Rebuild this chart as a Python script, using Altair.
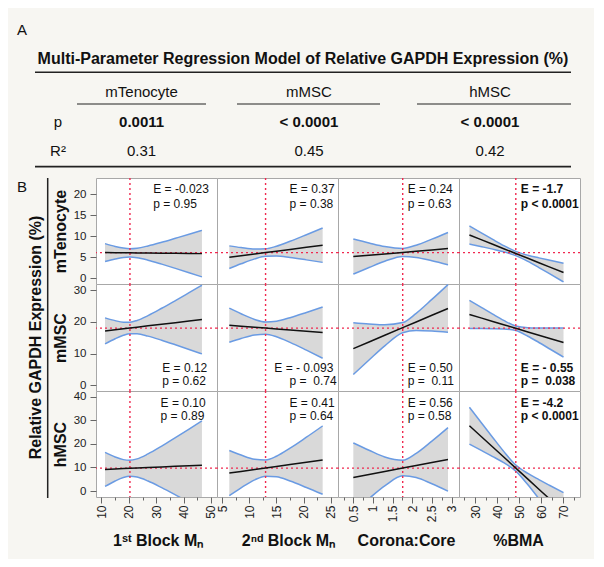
import altair as alt
import pandas as pd

FONT = "Liberation Sans"
BG = "#f7f6f2"
GRAY = "#d9d9d9"
BLUE = "#6a9be3"
RED = "#f0284f"
BORDER = "#a8a8a8"

# ---------------- Panel A : table data ----------------
TABLE_TITLE = "Multi-Parameter Regression Model of Relative GAPDH Expression (%)"
CELL_TYPES = ["mTenocyte", "mMSC", "hMSC"]
MODEL_P = ["0.0011", "< 0.0001", "< 0.0001"]
MODEL_R2 = ["0.31", "0.45", "0.42"]
ROW_LABELS = ["p", "R\u00b2"]

# ---------------- Panel B : profiler data ----------------
ROW_NAMES = ["mTenocyte", "mMSC", "hMSC"]
X_TITLES = ["1\u02e2\u1d57 Block M\u2099", "2\u207f\u1d48 Block M\u2099", "Corona:Core", "%BMA"]
Y_AXIS_TITLE = "Relative GAPDH Expression (%)"

X_DOMAINS = [[8.0, 52.2], [4.08, 26.3], [0.11, 3.19], [22.66, 77.7]]
Y_DOMAINS = [[-1.4, 23.9], [-1.8, 31.9], [-2.5, 42.4]]
X_TICKS = [[10, 20, 30, 40, 50], [5, 10, 15, 20, 25], [0.5, 1, 1.5, 2, 2.5, 3], [30, 40, 50, 60, 70]]
X_MINOR = [[15, 25, 35, 45], [7.5, 12.5, 17.5, 22.5], [0.25, 0.75, 1.25, 1.75, 2.25, 2.75], [25, 35, 45, 55, 65, 75]]
Y_TICKS = [[0, 5, 10, 15, 20], [0, 10, 20, 30], [0, 10, 20, 30, 40]]
REF_X = [20.4, 13.0, 1.757, 48.5]
REF_Y = [6.1, 18.0, 9.75]

X_PTS = [
    [11.3, 15, 18, 20.4, 23, 27, 32, 37, 42, 46.7],
    [6.34, 8.5, 11, 13.0, 15, 17.5, 20.5, 23.48],
    [0.5, 0.9, 1.3, 1.757, 2.1, 2.5, 2.91],
    [27.4, 33, 38, 43, 48.5, 54, 59, 64, 70.2],
]

FIT = [
    [[6.10, 6.07, 6.05, 6.03, 6.01, 5.99, 5.95, 5.92, 5.88, 5.85],
     [5.00, 5.36, 5.78, 6.11, 6.44, 6.86, 7.36, 7.86],
     [5.14, 5.46, 5.78, 6.14, 6.41, 6.73, 7.05],
     [10.30, 9.13, 8.08, 7.03, 5.88, 4.73, 3.68, 2.63, 1.33]],
    [[17.13, 17.51, 17.81, 18.05, 18.31, 18.72, 19.22, 19.72, 20.23, 20.70],
     [18.93, 18.63, 18.29, 18.02, 17.75, 17.41, 17.00, 16.59],
     [11.55, 13.65, 15.75, 18.15, 19.95, 22.05, 24.20],
     [22.30, 21.15, 20.11, 19.08, 17.94, 16.80, 15.77, 14.73, 13.45]],
    [[9.19, 9.38, 9.54, 9.66, 9.79, 10.00, 10.25, 10.51, 10.76, 11.00],
     [7.63, 8.32, 9.13, 9.77, 10.41, 11.22, 12.18, 13.14],
     [5.80, 7.07, 8.33, 9.78, 10.87, 12.13, 13.43],
     [27.70, 22.93, 18.68, 14.42, 9.74, 5.06, 0.80, -3.45, -8.73]],
]
UPPER = [
    [[8.24, 7.57, 7.17, 7.03, 7.15, 7.69, 8.56, 9.51, 10.47, 11.40],
     [7.70, 7.30, 6.96, 7.01, 7.62, 8.80, 10.36, 11.96],
     [9.32, 8.39, 7.54, 7.09, 7.87, 9.32, 10.90],
     [12.47, 10.76, 9.24, 7.77, 6.38, 5.47, 4.84, 4.26, 3.56]],
    [[21.24, 20.36, 19.88, 19.88, 20.42, 21.96, 24.26, 26.69, 29.17, 31.51],
     [24.28, 22.52, 20.74, 19.96, 20.20, 21.30, 22.94, 24.67],
     [19.71, 19.33, 19.07, 19.75, 22.66, 27.04, 31.71],
     [26.75, 24.45, 22.40, 20.43, 18.65, 18.15, 18.06, 18.03, 18.02]],
    [[16.41, 14.47, 13.33, 13.06, 13.65, 15.74, 19.05, 22.62, 26.26, 29.72],
     [17.21, 15.27, 13.50, 13.22, 14.78, 18.17, 22.82, 27.61],
     [20.40, 17.31, 14.47, 13.08, 15.97, 21.16, 26.88],
     [35.53, 28.75, 22.73, 16.82, 11.04, 7.46, 4.85, 2.37, -0.68]],
]
LOWER = [
    [[3.96, 4.57, 4.93, 5.03, 4.87, 4.29, 3.34, 2.33, 1.29, 0.30],
     [2.30, 3.42, 4.60, 5.21, 5.26, 4.92, 4.36, 3.76],
     [0.96, 2.53, 4.02, 5.19, 4.95, 4.14, 3.20],
     [8.13, 7.50, 6.92, 6.29, 5.38, 3.99, 2.52, 1.00, -0.90]],
    [[13.02, 14.66, 15.74, 16.22, 16.20, 15.48, 14.18, 12.75, 11.29, 9.89],
     [13.58, 14.74, 15.84, 16.08, 15.30, 13.52, 11.06, 8.51],
     [3.39, 7.97, 12.43, 16.55, 17.24, 17.06, 16.69],
     [17.85, 17.85, 17.82, 17.73, 17.23, 15.45, 13.48, 11.43, 8.88]],
    [[1.97, 4.29, 5.75, 6.26, 5.93, 4.26, 1.45, -1.60, -4.74, -7.72],
     [-1.95, 1.37, 4.76, 6.32, 6.04, 4.27, 1.54, -1.33],
     [-8.80, -3.17, 2.19, 6.48, 5.77, 3.10, -0.02],
     [19.87, 17.11, 14.63, 12.02, 8.44, 2.66, -3.25, -9.27, -16.78]],
]

NB = "\u00a0"
EST_LABELS = [
    ["E = -0.023", "E = 0.37", "E = 0.24", "E = -1.7"],
    ["E = 0.12", "E = - 0.093", "E = 0.50", "E = - 0.55"],
    ["E = 0.10", "E = 0.41", "E = 0.56", "E = -4.2"],
]
P_LABELS = [
    ["p = 0.95", "p = 0.38", "p = 0.63", "p < 0.0001"],
    ["p = 0.62", "p = " + NB + "0.74", "p = " + NB + "0.11", "p = " + NB + "0.038"],
    ["p = 0.89", "p = 0.64", "p = 0.58", "p < 0.0001"],
]

# ---------------- layout (positions / sizes) ----------------
PANEL_W = 121
ROW_H = [106, 107, 106]
ANNOT_X_E = [[28.9, 32.2, 31.6], [17.4, 14.6, 17.4], [1.884, 1.884, 1.884], [50.8, 50.8, 50.8]]
ANNOT_X_P = [[28.9, 32.2, 31.6], [17.4, 17.4, 17.4], [1.884, 1.884, 1.884], [50.8, 50.8, 50.8]]
ANNOT_Y_E = [21.26, 5.46, 37.3]
ANNOT_Y_P = [17.8, 1.2, 31.8]
TITLE_X = [61.7, 71, 68, 59]
TABLE_COL_X = [49, 132.6, 300, 481]
TABLE_ROW_Y = [82.5, 113, 142]


def panel(r, c):
    df = pd.DataFrame({"x": X_PTS[c], "fit": FIT[r][c], "up": UPPER[r][c], "lo": LOWER[r][c]})
    refdf = pd.DataFrame({"rx": [REF_X[c]], "ry": [REF_Y[r]]})
    tdf = pd.DataFrame({
        "tx": [ANNOT_X_E[c][r], ANNOT_X_P[c][r]],
        "ty": [ANNOT_Y_E[r], ANNOT_Y_P[r]],
        "t": [EST_LABELS[r][c], P_LABELS[r][c]],
    })
    xsc = alt.Scale(domain=X_DOMAINS[c], nice=False, zero=False)
    ysc = alt.Scale(domain=Y_DOMAINS[r], nice=False, zero=False)
    if r == 2:
        majors = "[" + ",".join(str(v) for v in X_TICKS[c]) + "]"
        lab = "datum.label"
        if c == 2:
            lab = "((datum.value == 1.5 || datum.value == 2.5) ? datum.label + '" + NB + NB + "' : datum.label)"
        expr = "indexof(" + majors + ", datum.value) < 0 ? '' : " + lab
        minor_test = "indexof(" + majors + ", datum.value) < 0"
        xax = alt.Axis(values=sorted(X_TICKS[c] + X_MINOR[c]), format="~f", labelAngle=270,
                       labelExpr=expr, labelFontSize=12, labelPadding=2,
                       tickSize={"condition": {"test": minor_test, "value": 3}, "value": 6},
                       labelOverlap=False,
                       title=X_TITLES[c], titleX=TITLE_X[c], titleY=43, titleBaseline="middle",
                       titleAlign="center", titleFontSize=16, titleFontWeight="bold",
                       domain=False, grid=False)
    else:
        xax = None
    if c == 0:
        yax = alt.Axis(values=Y_TICKS[r], labelFontSize=11.5, labelPadding=4, tickSize=6,
                       labelOverlap=False, title=ROW_NAMES[r], titleX=-36, titleY=ROW_H[r] / 2,
                       titleAngle=270, titleAlign="center", titleBaseline="middle",
                       titleFontSize=16, titleFontWeight="bold", domain=False, grid=False)
    else:
        yax = None

    def X(f):
        return alt.X(f, type="quantitative", scale=xsc, axis=xax)

    def Y(f):
        return alt.Y(f, type="quantitative", scale=ysc, axis=yax)

    band = alt.Chart(df).mark_area(color=GRAY, interpolate="monotone", clip=True).encode(
        x=X("x"), y=Y("lo"), y2=alt.Y2("up"))
    up_l = alt.Chart(df).mark_line(color=BLUE, strokeWidth=1.5, interpolate="monotone", clip=True).encode(
        x=X("x"), y=Y("up"))
    lo_l = alt.Chart(df).mark_line(color=BLUE, strokeWidth=1.5, interpolate="monotone", clip=True).encode(
        x=X("x"), y=Y("lo"))
    hr = alt.Chart(refdf).mark_rule(color=RED, strokeDash=[2, 3], strokeWidth=1.4).encode(y=Y("ry"))
    vr = alt.Chart(refdf).mark_rule(color=RED, strokeDash=[2, 3], strokeWidth=1.4).encode(x=X("rx"))
    fit = alt.Chart(df).mark_line(color="#111111", strokeWidth=1.5, clip=True).encode(
        x=X("x"), y=Y("fit"))
    txt = alt.Chart(tdf).mark_text(align="left", baseline="middle", fontSize=12, font=FONT,
                                   fontWeight="bold" if c == 3 else "normal", color="#111111").encode(
        x=X("tx"), y=Y("ty"), text="t:N")
    return alt.layer(band, up_l, lo_l, hr, vr, fit, txt).properties(width=PANEL_W, height=ROW_H[r])


NOVIEW = alt.ViewBackground(fill="transparent", stroke="transparent")

# ---------------- table chart ----------------
trows = []
for i, name in enumerate(CELL_TYPES):
    trows.append({"ci": i + 1, "ri": 0, "t": name, "k": "head"})
for i, v in enumerate(MODEL_P):
    trows.append({"ci": i + 1, "ri": 1, "t": v, "k": "p"})
for i, v in enumerate(MODEL_R2):
    trows.append({"ci": i + 1, "ri": 2, "t": v, "k": "r2"})
for j, lab in enumerate(ROW_LABELS):
    trows.append({"ci": 0, "ri": j + 1, "t": lab, "k": "lab"})
tdf = pd.DataFrame(trows)
txs = alt.Scale(domain=[0, 1, 2, 3], range=TABLE_COL_X)
tys = alt.Scale(domain=[0, 1, 2], range=TABLE_ROW_Y)
tbase = alt.Chart(tdf).encode(x=alt.X("ci:Q", scale=txs, axis=None),
                              y=alt.Y("ri:Q", scale=tys, axis=None), text="t:N")
t_head = tbase.transform_filter("datum.k == 'head'").mark_text(fontSize=15, font=FONT, color="#111")
t_p = tbase.transform_filter("datum.k == 'p'").mark_text(fontSize=15, font=FONT, fontWeight="bold", color="#111")
t_r2 = tbase.transform_filter("datum.k == 'r2'").mark_text(fontSize=15, font=FONT, color="#111")
t_lab = tbase.transform_filter("datum.k == 'lab'").mark_text(fontSize=15, font=FONT, color="#111")

segs = pd.DataFrame({"x1": [26, 68, 228, 408, 26], "x2": [562, 197, 371, 562, 562],
                     "y": [63.3, 95, 95, 95, 157.6], "w": [1.6, 1, 1, 1, 1.6]})
t_rules = alt.Chart(segs).mark_rule(color="#222").encode(
    x=alt.X("x1:Q", scale=None), x2="x2:Q", y=alt.Y("y:Q", scale=None),
    strokeWidth=alt.StrokeWidth("w:Q", scale=None, legend=None))
t_title = alt.Chart(pd.DataFrame({"t": [TABLE_TITLE]})).mark_text(
    fontSize=16, fontWeight="bold", font=FONT, color="#111").encode(
    x=alt.value(294), y=alt.value(50), text="t:N")
t_a = alt.Chart(pd.DataFrame({"t": ["A"]})).mark_text(fontSize=15, font=FONT, color="#111").encode(
    x=alt.value(13), y=alt.value(21), text="t:N")
table = alt.layer(t_rules, t_title, t_a, t_head, t_p, t_r2, t_lab).properties(
    width=584, height=169, view=NOVIEW)

# ---------------- left strip ----------------
l_b = alt.Chart(pd.DataFrame({"t": ["B"]})).mark_text(fontSize=15, font=FONT, color="#111").encode(
    x=alt.value(13), y=alt.value(9), text="t:N")
l_rule = alt.Chart(pd.DataFrame({"a": [0]})).mark_rule(color="#222", strokeWidth=1.5).encode(
    x=alt.value(38.7), y=alt.value(0), y2=alt.value(320))
l_txt = alt.Chart(pd.DataFrame({"t": [Y_AXIS_TITLE]})).mark_text(
    angle=270, fontSize=16, fontWeight="bold", font=FONT, color="#111",
    align="center", baseline="middle").encode(x=alt.value(27), y=alt.value(159.5), text="t:N")
left = alt.layer(l_b, l_rule, l_txt).properties(width=87, height=sum(ROW_H), view=NOVIEW)

grid = alt.concat(*[panel(r, c) for r in range(3) for c in range(4)],
                  columns=4, spacing=0, bounds="flush", align="each")
main = alt.hconcat(left, grid, spacing=0, bounds="flush")

chart = alt.vconcat(table, main, spacing=0, bounds="flush").properties(
    background=BG, padding={"left": 0, "top": 0, "right": 0, "bottom": 10}
).configure_view(fill="white", stroke=BORDER, strokeWidth=1).configure_axis(
    labelFont=FONT, titleFont=FONT, labelColor="#222", tickColor="#666", titleColor="#111"
).configure_text(font=FONT)

chart.save("out.html", embed_options={"renderer": "svg", "actions": False})
